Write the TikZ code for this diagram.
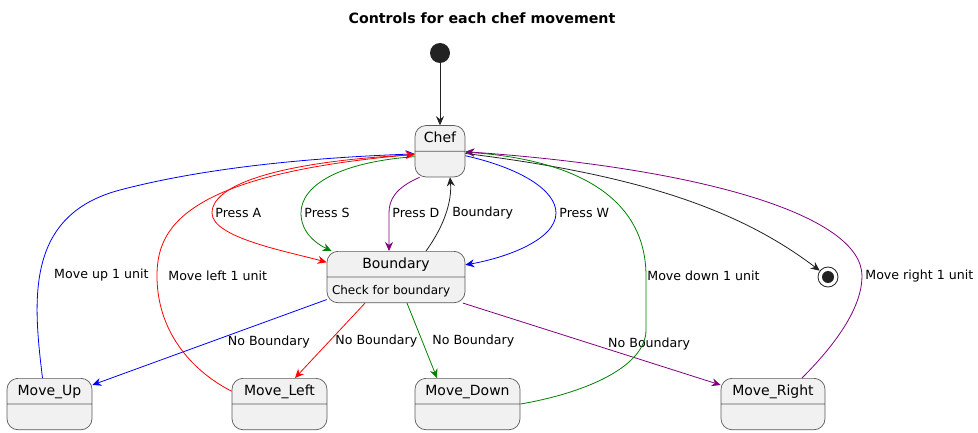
\documentclass[tikz,border=0pt]{standalone}
\usepackage{fontspec}
\setmainfont{DejaVu Sans}
\usepackage{xcolor}
\usetikzlibrary{shapes.multipart, arrows.meta, positioning}
\definecolor{boxfill}{HTML}{F1F1F1}
\definecolor{boxline}{HTML}{5A5A5A}
\definecolor{ink}{HTML}{222222}
\definecolor{umlred}{HTML}{FF0000}
\definecolor{umlgreen}{HTML}{008000}
\definecolor{umlblue}{HTML}{0000FF}
\definecolor{umlpurple}{HTML}{800080}
\newcommand{\partstrut}{\rule[-8pt]{0pt}{25pt}}
\newcommand{\bodyfont}{\fontsize{12}{14}\selectfont}
\newcommand{\lblfont}{\fontsize{12.6}{15}\selectfont}

\begin{document}
\begin{tikzpicture}[
    x=1pt, y=-1pt,
    statebox/.style={
        rectangle split,
        rectangle split parts=2,
        rectangle split part align={center,left},
        rounded corners=11pt,
        draw=boxline,
        line width=0.7pt,
        fill=boxfill,
        inner xsep=5pt,
        inner ysep=0pt,
        font=\fontsize{14}{16}\selectfont
    },
    startdot/.style={
        circle,
        fill=ink,
        minimum size=20pt,
        inner sep=0pt
    },
    enddot/.style={
        circle,
        draw=ink,
        line width=0.8pt,
        fill=white,
        minimum size=20pt,
        inner sep=0pt,
        path picture={\fill[ink] (path picture bounding box.center) circle (6pt);}
    },
    lbl/.style={
        font=\lblfont,
        text=black,
        inner sep=3pt
    },
    arrow/.style={
        line width=0.8pt,
        -{Stealth[length=9pt, width=8pt, inset=3pt]}
    }
]
\useasboundingbox (0,0) rectangle (978,433);
% TITLE
\node (title) [font=\bfseries\fontsize{14.2}{16}\selectfont] at (482,18) {Controls for each chef movement};
% TOP
\node (start) [startdot] at (440,53) {};
\node (chef) [statebox, minimum width=50pt, below=62pt of start] {\partstrut Chef\nodepart{two}\partstrut};
\node (bound) [statebox, minimum width=138pt, anchor=north] at (396,251) {\partstrut Boundary\nodepart{two}\bodyfont\partstrut Check for boundary};
\node (stop) [enddot] at (828,277) {};
% BOTTOM ROW
\node (moveup) [statebox, minimum width=85pt, anchor=north] at (49.5,378) {\partstrut Move\_Up\nodepart{two}\partstrut};
\node (moveleft) [statebox, minimum width=95pt, anchor=north] at (279.5,378) {\partstrut Move\_Left\nodepart{two}\partstrut};
\node (movedown) [statebox, minimum width=105pt, anchor=north] at (467.5,378) {\partstrut Move\_Down\nodepart{two}\partstrut};
\node (moveright) [statebox, minimum width=104pt, anchor=north] at (773,378) {\partstrut Move\_Right\nodepart{two}\partstrut};
% START AND END
\draw [arrow, ink] (start) -- (chef);
\draw [arrow, ink] (chef.-5) .. controls (640,175) and (740,210) .. (stop);
% KEY PRESSES
\draw [arrow, umlred] (chef.188) .. controls (300,160) and (212,180) .. (212,213) node[lbl, right] {Press A} .. controls (212,238) and (290,252) .. (bound.168);
\draw [arrow, umlgreen] (chef.192) .. controls (340,162) and (301,185) .. (301,213) node[lbl, right] {Press S} .. controls (301,232) and (315,243) .. (bound.158);
\draw [arrow, umlpurple] (chef.232) .. controls (395,188) and (389,200) .. (389,213) node[lbl, right] {Press D} -- ([xshift=-7pt]bound.north);
\draw [arrow, ink] ([xshift=30pt]bound.north) .. controls (445,225) and (452,200) .. node[lbl, right, pos=0.5, xshift=3pt] {Boundary} ([xshift=10pt]chef.south);
\draw [arrow, umlblue] (chef.-10) .. controls (520,168) and (556,190) .. (556,213) node[lbl, right] {Press W} .. controls (556,240) and (505,258) .. (bound.10);
% BOUNDARY CHECK
\draw [arrow, umlblue] (bound.198) -- node[lbl, right=15pt] {No Boundary} (moveup.24);
\draw [arrow, umlred] ([xshift=-31pt]bound.south) -- node[lbl, right=2pt] {No Boundary} ([xshift=15.5pt]moveleft.north);
\draw [arrow, umlgreen] ([xshift=11pt]bound.south) -- node[lbl, right=7pt] {No Boundary} ([xshift=-30.5pt]movedown.north);
\draw [arrow, umlpurple] ([xshift=67pt]bound.south) -- node[lbl, right=13pt] {No Boundary} (moveright.160);
% MOVES BACK TO CHEF
\draw [arrow, umlblue] ([xshift=-7pt]moveup.north) .. controls (33,300) and (25,215) .. node[lbl, pos=0.45, right=11pt] {Move up 1 unit} (120,190) .. controls (215,165) and (330,157) .. (chef.186);
\draw [arrow, umlred] (moveleft.165) .. controls (190,370) and (157,330) .. (157,276) node[lbl, right=8pt] {Move left 1 unit} .. controls (157,230) and (180,175) .. (chef.187);
\draw [arrow, umlgreen] (movedown.east) .. controls (590,392) and (646,365) .. (646,330) -- (646,276) node[lbl, anchor=west, inner sep=1pt] {Move down 1 unit} .. controls (646,200) and (580,160) .. (chef.-2);
\draw [arrow, umlpurple] ([xshift=29pt]moveright.north) .. controls (840,340) and (862,305) .. (862,276) node[lbl, right] {Move right 1 unit} .. controls (862,215) and (700,168) .. (chef.-1);
\end{tikzpicture}
\end{document}
